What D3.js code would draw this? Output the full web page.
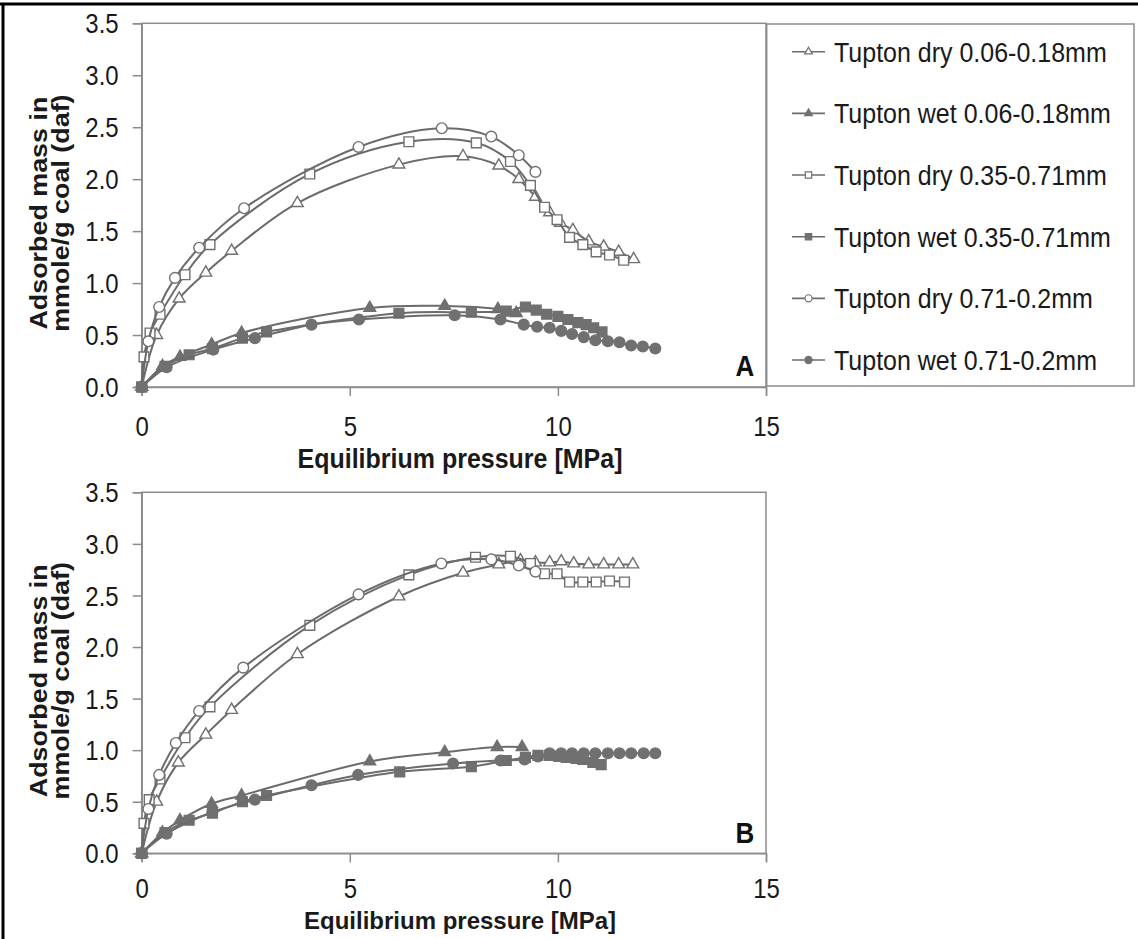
<!DOCTYPE html>
<html>
<head>
<meta charset="utf-8">
<script src="https://cdnjs.cloudflare.com/ajax/libs/d3/7.8.5/d3.min.js"></script>
<style>
  body { margin: 0; background: #fff; }
  svg { display: block; font-family: "Liberation Sans", Arial, sans-serif; }
</style>
</head>
<body>
<script>
var width = 1138;
var height = 939;

var seriesNames = [
  "Tupton dry 0.06-0.18mm",
  "Tupton wet 0.06-0.18mm",
  "Tupton dry 0.35-0.71mm",
  "Tupton wet 0.35-0.71mm",
  "Tupton dry 0.71-0.2mm",
  "Tupton wet 0.71-0.2mm"
];
var seriesShapes = ["triangle", "triangle", "square", "square", "circle", "circle"];
var seriesFilled = [false, true, false, true, false, true];

var xTicks = [0, 5, 10, 15];
var yTicks = [0, 0.5, 1, 1.5, 2, 2.5, 3, 3.5];
var panelLabels = ["A", "B"];

// panel A  [pressure MPa, adsorbed mmole/g]
var aDry006 = [[0,0],[0.36,0.50],[0.90,0.85],[1.54,1.10],[2.16,1.31],[3.74,1.77],[6.18,2.14],[7.72,2.22],[8.58,2.13],[9.06,2.00],[9.46,1.83],[9.8,1.68],[10.06,1.58],[10.36,1.51],[10.74,1.40],[11.10,1.35],[11.46,1.30],[11.82,1.23]];
var aWet006 = [[0,0],[0.5,0.2],[0.92,0.29],[1.68,0.41],[2.40,0.52],[5.48,0.76],[7.28,0.78],[8.56,0.75],[9.0,0.71]];
var aDry035 = [[0,0],[0.055,0.29],[0.2,0.52],[0.44,0.70],[1.04,1.08],[1.64,1.37],[4.04,2.05],[6.42,2.36],[8.04,2.35],[8.86,2.17],[9.34,1.94],[9.68,1.73],[9.98,1.61],[10.28,1.44],[10.60,1.37],[10.92,1.30],[11.24,1.27],[11.58,1.22]];
var aWet035 = [[0,0],[0.56,0.20],[1.14,0.31],[1.70,0.37],[2.42,0.47],[3.0,0.53],[6.18,0.71],[7.92,0.72],[8.76,0.73],[9.22,0.77],[9.48,0.74],[9.73,0.70],[10.0,0.68],[10.24,0.65],[10.48,0.62],[10.68,0.60],[10.86,0.57],[11.06,0.53]];
var aDry071 = [[0,0],[0.16,0.44],[0.42,0.77],[0.80,1.05],[1.38,1.34],[2.46,1.72],[5.21,2.31],[7.21,2.49],[8.40,2.41],[9.06,2.23],[9.46,2.07]];
var aWet071 = [[0,0],[0.6,0.19],[1.72,0.36],[2.72,0.47],[4.08,0.60],[5.22,0.65],[7.52,0.69],[8.62,0.65],[9.18,0.60],[9.50,0.58],[9.80,0.57],[10.08,0.54],[10.34,0.51],[10.62,0.48],[10.90,0.45],[11.20,0.44],[11.48,0.43],[11.76,0.40],[12.04,0.39],[12.34,0.37]];

// panel B
var bDry006 = [[0,0],[0.36,0.50],[0.88,0.88],[1.54,1.15],[2.16,1.39],[3.74,1.93],[6.18,2.49],[7.72,2.72],[8.58,2.80],[9.10,2.84],[9.46,2.82],[9.80,2.82],[10.08,2.83],[10.38,2.81],[10.74,2.80],[11.10,2.80],[11.46,2.80],[11.80,2.80]];
var bWet006 = [[0,0],[0.5,0.2],[0.92,0.32],[1.68,0.48],[2.40,0.56],[5.48,0.89],[7.28,0.98],[8.54,1.03],[9.14,1.03]];
var bDry035 = [[0,0],[0.055,0.29],[0.18,0.52],[0.44,0.72],[1.04,1.12],[1.64,1.42],[4.04,2.21],[6.42,2.70],[8.02,2.87],[8.86,2.88],[9.34,2.81],[9.68,2.71],[9.98,2.71],[10.28,2.63],[10.60,2.63],[10.92,2.63],[11.24,2.64],[11.60,2.63]];
var bWet035 = [[0,0],[0.56,0.20],[1.14,0.32],[1.70,0.39],[2.42,0.50],[3.0,0.56],[6.2,0.79],[7.92,0.84],[8.76,0.90],[9.22,0.93],[9.52,0.95],[9.8,0.95],[10.02,0.94],[10.2,0.93],[10.44,0.92],[10.6,0.91],[10.84,0.88],[11.04,0.86]];
var bDry071 = [[0,0],[0.16,0.43],[0.42,0.76],[0.82,1.07],[1.38,1.38],[2.44,1.80],[5.21,2.51],[7.20,2.81],[8.40,2.85],[9.06,2.79],[9.46,2.73]];
var bWet071 = [[0,0],[0.6,0.19],[1.70,0.40],[2.72,0.52],[4.08,0.66],[5.2,0.76],[7.48,0.87],[8.62,0.90],[9.2,0.91],[9.52,0.94],[9.8,0.97],[10.08,0.97],[10.34,0.97],[10.62,0.97],[10.9,0.97],[11.2,0.97],[11.48,0.97],[11.76,0.97],[12.06,0.97],[12.34,0.97]];

var panelData = [
  [aDry006, aWet006, aDry035, aWet035, aDry071, aWet071],
  [bDry006, bWet006, bDry035, bWet035, bDry071, bWet071]
];

var lineColor = "#6b6b6b";
var markColor = "#707070";
var axisColor = "#8c8c8c";
var textColor = "#1a1a1a";
var stretch = 1.12; // the original figure is a bit taller than wide

var left = 141.7, right = 766;
var panelTops = [23.3, 492.3];
var panelBottoms = [387, 853.3];
var tickOffsets = [39, 35];
var titleOffsets = [71, 67];
var titleStretch = [stretch, 1];

var svg = d3.select("body").append("svg")
  .attr("width", width)
  .attr("height", height);

// outer frame (only top and left edges show)
svg.append("line").attr("x1", 0).attr("x2", width).attr("y1", 4).attr("y2", 4)
  .attr("stroke", "#000").attr("stroke-width", 3);
svg.append("line").attr("x1", 3).attr("x2", 3).attr("y1", 3).attr("y2", height)
  .attr("stroke", "#000").attr("stroke-width", 3);

var x = d3.scaleLinear().domain([0, 15]).range([left, right]);

function symbolPath(shape, big) {
  var type = shape == "triangle" ? d3.symbolTriangle : shape == "square" ? d3.symbolSquare : d3.symbolCircle;
  var size;
  if (shape == "triangle") size = big ? 60 : 26;
  else if (shape == "square") size = big ? 95 : 40;
  else size = big ? 90 : 40;
  return d3.symbol().type(type).size(size)();
}

panelData.forEach(function (series, p) {
  var y = d3.scaleLinear().domain([0, 3.5]).range([panelBottoms[p], panelTops[p]]);
  var g = svg.append("g");

  // plot area frame
  g.append("rect")
    .attr("x", left).attr("y", panelTops[p])
    .attr("width", right - left).attr("height", panelBottoms[p] - panelTops[p])
    .attr("fill", "none").attr("stroke", axisColor).attr("stroke-width", 1.5);

  // y axis
  var yAxis = g.append("g").attr("transform", "translate(" + left + ",0)")
    .call(d3.axisLeft(y).tickValues(yTicks).tickSize(9).tickFormat(d3.format(".1f")));
  yAxis.select(".domain").attr("stroke", axisColor).attr("stroke-width", 1.5);
  yAxis.selectAll(".tick line").attr("stroke", axisColor).attr("stroke-width", 1.5);
  yAxis.selectAll(".tick text")
    .attr("x", null)
    .attr("transform", "translate(-23,0) scale(1," + stretch + ")")
    .attr("dy", "0.36em")
    .attr("fill", textColor).attr("font-size", 24).attr("font-family", "Liberation Sans, Arial, sans-serif");

  // x axis
  var xAxis = g.append("g").attr("transform", "translate(0," + panelBottoms[p] + ")")
    .call(d3.axisBottom(x).tickValues(xTicks).tickSize(9).tickFormat(d3.format("d")));
  xAxis.select(".domain").attr("stroke", axisColor).attr("stroke-width", 1.5);
  xAxis.selectAll(".tick line").attr("stroke", axisColor).attr("stroke-width", 1.5);
  xAxis.selectAll(".tick text")
    .attr("y", null)
    .attr("transform", "translate(0," + tickOffsets[p] + ") scale(1," + stretch + ")")
    .attr("dy", "0.36em")
    .attr("fill", textColor).attr("font-size", 24).attr("font-family", "Liberation Sans, Arial, sans-serif");

  // axis titles
  g.append("text")
    .attr("transform", "translate(460," + (panelBottoms[p] + titleOffsets[p]) + ") scale(1," + titleStretch[p] + ")")
    .attr("text-anchor", "middle").attr("dy", "0.36em")
    .attr("font-size", p == 0 ? 25 : 24).attr("font-weight", "bold").attr("fill", textColor)
    .text("Equilibrium pressure [MPa]");

  var cy = (panelTops[p] + panelBottoms[p]) / 2 + 8;
  [["Adsorbed mass in", 38], ["mmole/g coal (daf)", 60]].forEach(function (t) {
    g.append("text")
      .attr("transform", "translate(" + t[1] + "," + cy + ") rotate(-90) scale(" + stretch + ",1)")
      .attr("text-anchor", "middle").attr("dy", "0.36em")
      .attr("font-size", 24).attr("font-weight", "bold").attr("fill", textColor)
      .text(t[0]);
  });

  // series
  var line = d3.line()
    .x(function (d) { return x(d[0]); })
    .y(function (d) { return y(d[1]); })
    .curve(d3.curveCatmullRom.alpha(0.5));

  series.forEach(function (pts, i) {
    g.append("path")
      .attr("d", line(pts))
      .attr("fill", "none")
      .attr("stroke", lineColor)
      .attr("stroke-width", 2);

    g.selectAll(".m" + i)
      .data(pts)
      .enter()
      .append("path")
      .attr("class", "m" + i)
      .attr("d", symbolPath(seriesShapes[i], true))
      .attr("transform", function (d) {
        return "translate(" + x(d[0]) + "," + y(d[1]) + ")";
      })
      .attr("fill", seriesFilled[i] ? markColor : "#fff")
      .attr("stroke", markColor)
      .attr("stroke-width", 1.4);
  });

  // panel letter
  g.append("text")
    .attr("transform", "translate(745," + (panelBottoms[p] - 21) + ") scale(1," + stretch + ")")
    .attr("text-anchor", "middle").attr("dy", "0.36em")
    .attr("font-size", 26).attr("font-weight", "bold").attr("fill", "#111")
    .text(panelLabels[p]);
});

// legend (panel A only)
var legend = svg.append("g");
legend.append("rect")
  .attr("x", 766.7).attr("y", 24)
  .attr("width", 1134 - 766.7).attr("height", 386 - 24)
  .attr("fill", "#fff").attr("stroke", axisColor).attr("stroke-width", 1.5);

var legendY = d3.scalePoint().domain(seriesNames).range([51.7, 360]);

seriesNames.forEach(function (name, i) {
  var ly = legendY(name);
  var item = legend.append("g");
  item.append("line")
    .attr("x1", 792).attr("x2", 825).attr("y1", ly).attr("y2", ly)
    .attr("stroke", lineColor).attr("stroke-width", 1.6);
  item.append("path")
    .attr("d", symbolPath(seriesShapes[i], false))
    .attr("transform", "translate(808.5," + ly + ")")
    .attr("fill", seriesFilled[i] ? markColor : "#fff")
    .attr("stroke", markColor)
    .attr("stroke-width", 1.2);
  item.append("text")
    .attr("transform", "translate(834," + ly + ") scale(1," + stretch + ")")
    .attr("dy", "0.36em")
    .attr("font-size", 25).attr("fill", textColor)
    .text(name);
});
</script>
</body>
</html>
